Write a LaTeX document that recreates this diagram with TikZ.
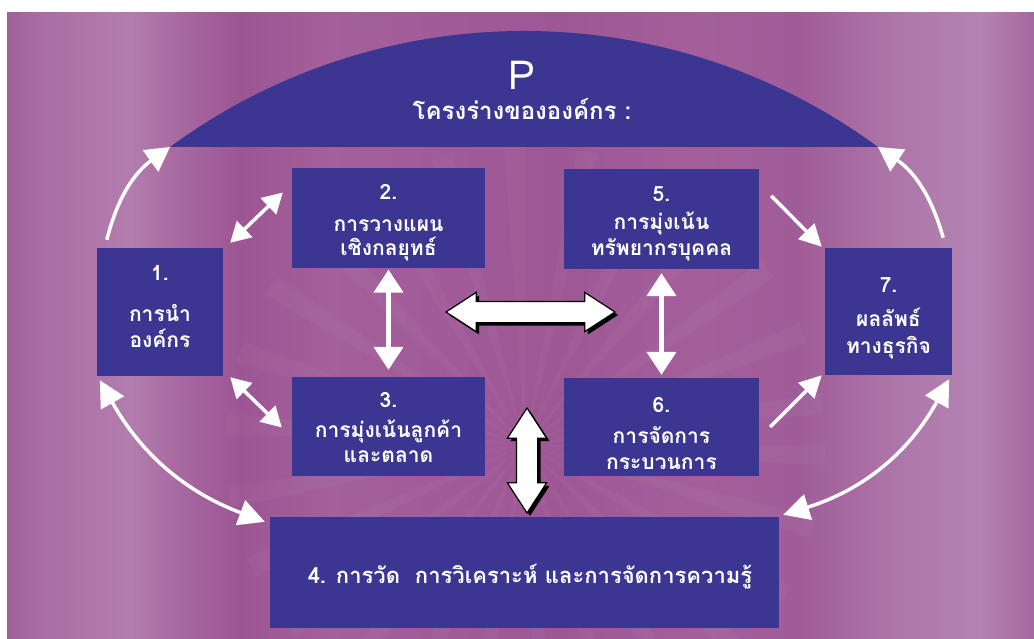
\documentclass[tikz,border=0pt]{standalone}
\usepackage{fontspec}
\newfontfamily\thaifont[Script=Thai]{Loma}
\usetikzlibrary{arrows.meta,shapes.arrows,shadows}

\definecolor{boxblue}{HTML}{3B3691}
\definecolor{bgA}{HTML}{A0609A}
\definecolor{bgB}{HTML}{A96DA3}
\definecolor{bgC}{HTML}{B27EAE}
\definecolor{bgD}{HTML}{A86AA2}
\definecolor{bgE}{HTML}{9C5593}
\definecolor{bgF}{HTML}{A4609B}
\definecolor{bgG}{HTML}{A05A98}
\definecolor{bgH}{HTML}{9E5795}
\definecolor{bgI}{HTML}{A45F9B}
\definecolor{bgJ}{HTML}{A05C98}
\definecolor{bgK}{HTML}{AD78A9}
\definecolor{bgL}{HTML}{B483B2}
\definecolor{bgM}{HTML}{A5699F}

\begin{document}
\begin{tikzpicture}[x=1pt,y=-1pt,
  box/.style={fill=boxblue, draw=none, inner sep=0pt},
  lbl/.style={text=white, anchor=base, inner sep=0pt,
    font=\thaifont\bfseries\fontsize{21}{24}\selectfont},
  wlink/.style={draw=white, line width=3.5pt},
  bigarrow/.style={double arrow, draw=black, line width=1.2pt,
    fill=white, inner sep=10pt,
    double arrow head extend=9pt, double arrow tip angle=66,
    drop shadow={shadow xshift=3pt, shadow yshift=-3pt, fill=black, opacity=1}}]

% page and backdrop
\useasboundingbox (0,0) rectangle (1034,639);
\fill[white] (0,0) rectangle (1034,639);
% vertical colour bands, drawn in an upright frame so left stays left
\begin{scope}[yscale=-1]
  \shade[left color=bgA, right color=bgB] (7,-639)   rectangle (41,-13);
  \shade[left color=bgB, right color=bgC] (40,-639)  rectangle (131,-13);
  \shade[left color=bgC, right color=bgD] (130,-639) rectangle (176,-13);
  \shade[left color=bgD, right color=bgE] (175,-639) rectangle (241,-13);
  \shade[left color=bgE, right color=bgF] (240,-639) rectangle (331,-13);
  \shade[left color=bgF, right color=bgG] (330,-639) rectangle (451,-13);
  \shade[left color=bgG, right color=bgH] (450,-639) rectangle (561,-13);
  \shade[left color=bgH, right color=bgI] (560,-639) rectangle (701,-13);
  \shade[left color=bgI, right color=bgJ] (700,-639) rectangle (801,-13);
  \shade[left color=bgJ, right color=bgK] (800,-639) rectangle (901,-13);
  \shade[left color=bgK, right color=bgL] (900,-639) rectangle (981,-13);
  \shade[left color=bgL, right color=bgM] (980,-639) rectangle (1034,-13);
\end{scope}

% faint rays behind the centre
\begin{scope}
  \clip (7,13) rectangle (1034,639);
  \foreach \a in {0,14,...,350}
    \fill[white, opacity=0.03] (525,445) -- +(\a:300) -- +(\a+4:300) -- cycle;
\end{scope}

% organisational profile dome
\coordinate (domeL) at (170,147);
\coordinate (domeR) at (878,147);
\fill[boxblue] (domeL) arc[start angle=233.7, end angle=306.3, radius=598] -- cycle;
\node[text=white, anchor=base, inner sep=0pt,
  font=\thaifont\fontsize{40}{40}\selectfont] (ptitle) at (522,90) {P};
\node[text=white, anchor=base, inner sep=0pt,
  font=\thaifont\bfseries\fontsize{24}{24}\selectfont] (psub) at (522,120) {โครงร่างขององค์กร :};

% category boxes
\node[box, minimum width=126pt, minimum height=128pt] (b1) at (160,312) {};
\node[box, minimum width=193pt, minimum height=100pt] (b2) at (388.5,218.5) {};
\node[box, minimum width=193pt, minimum height=99pt]  (b3) at (388.5,426.5) {};
\node[box, minimum width=195pt, minimum height=100pt] (b5) at (661.5,219) {};
\node[box, minimum width=195pt, minimum height=98pt]  (b6) at (661.5,427) {};
\node[box, minimum width=127pt, minimum height=127pt] (b7) at (888.5,311.5) {};
\node[box, minimum width=509pt, minimum height=111pt] (b4) at (524.5,572.5) {};

% box labels
\node[lbl] (t1a) at (160,281) {1.};
\node[lbl] (t1b) at (160,321.5) {การนำ};
\node[lbl] (t1c) at (160,347.5) {องค์กร};
\node[lbl] (t2a) at (388.5,200) {2.};
\node[lbl] (t2b) at (388.5,231.5) {การวางแผน};
\node[lbl] (t2c) at (388.5,255.5) {เชิงกลยุทธ์};
\node[lbl] (t3a) at (388.5,407) {3.};
\node[lbl] (t3b) at (388.5,437.5) {การมุ่งเน้นลูกค้า};
\node[lbl] (t3c) at (388.5,462) {และตลาด};
\node[lbl] (t5a) at (661.5,202) {5.};
\node[lbl] (t5b) at (661.5,229.5) {การมุ่งเน้น};
\node[lbl] (t5c) at (661.5,255.5) {ทรัพยากรบุคคล};
\node[lbl] (t6a) at (661.5,412) {6.};
\node[lbl] (t6b) at (661.5,443.5) {การจัดการ};
\node[lbl] (t6c) at (661.5,469) {กระบวนการ};
\node[lbl] (t7a) at (888.5,292) {7.};
\node[lbl] (t7b) at (888.5,326.5) {ผลลัพธ์};
\node[lbl] (t7c) at (888.5,353.5) {ทางธุรกิจ};
\node[lbl, font=\thaifont\bfseries\fontsize{22}{24}\selectfont] (t4) at (530,583)
  {4. การวัด\ \ การวิเคราะห์ และการจัดการความรู้};

% white connectors
\draw[wlink, -{Triangle[length=24pt,width=26pt]}]
  ([xshift=10pt,yshift=8pt]b1.north west) to[bend left=20] (domeL);
\draw[wlink, -{Triangle[length=24pt,width=26pt]}]
  ([xshift=-9pt,yshift=10pt]b7.north east) to[bend right=20] (domeR);
\draw[wlink, {Triangle[length=20pt,width=22pt]}-{Triangle[length=20pt,width=22pt]}]
  ([xshift=7pt,yshift=5pt]b1.north east) -- ([xshift=-9pt,yshift=26pt]b2.west);
\draw[wlink, {Triangle[length=20pt,width=22pt]}-{Triangle[length=20pt,width=22pt]}]
  ([xshift=7pt,yshift=-1pt]b1.south east) -- ([xshift=-10pt,yshift=-1pt]b3.west);
\draw[wlink, line width=4.5pt, {Triangle[length=23pt,width=29pt]}-{Triangle[length=23pt,width=29pt]}]
  ([yshift=-1pt]b2.south) -- ([yshift=7pt]b3.north);
\draw[wlink, line width=4.5pt, {Triangle[length=23pt,width=29pt]}-{Triangle[length=23pt,width=29pt]}]
  ([yshift=-4pt]b5.south) -- ([yshift=3pt]b6.north);
\draw[wlink, -{Triangle[length=22pt,width=22pt]}]
  ([xshift=12pt,yshift=-27pt]b5.north east) -- ([xshift=-3pt,yshift=1pt]b7.north west);
\draw[wlink, -{Triangle[length=22pt,width=22pt]}]
  ([xshift=11pt]b6.east) -- ([xshift=-3pt]b7.south west);
\draw[wlink, {Triangle[length=26pt,width=26pt]}-{Triangle[length=26pt,width=26pt]}]
  ([xshift=3pt,yshift=-4pt]b1.south west) to[bend right=20] ([xshift=-5pt,yshift=-5pt]b4.north west);
\draw[wlink, {Triangle[length=26pt,width=26pt]}-{Triangle[length=26pt,width=26pt]}]
  ([xshift=-3pt,yshift=-4pt]b7.south east) to[bend left=22] ([xshift=4pt,yshift=2pt]b4.north east);

% outlined double arrows in the middle
\node[bigarrow, minimum height=169pt] (hx) at (530.5,312) {};
\node[bigarrow, shape border rotate=90, minimum height=105pt] (vx) at (527,460.5) {};
\end{tikzpicture}
\end{document}
